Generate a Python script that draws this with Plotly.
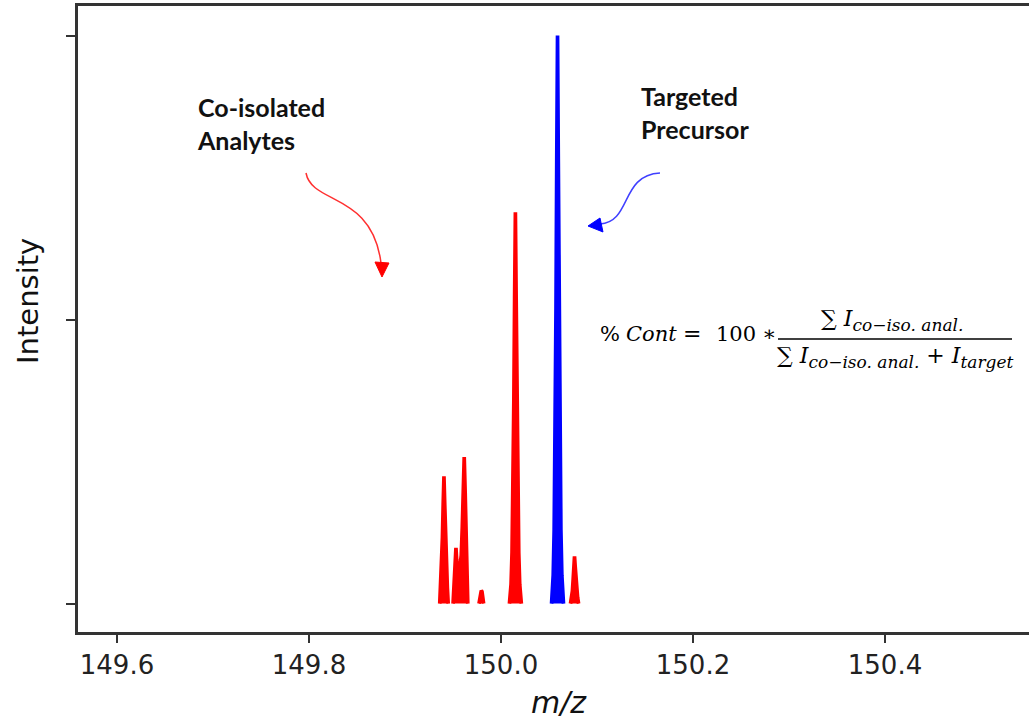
import plotly.graph_objects as go

# ---- spectrum data: profile points (m/z, intensity) for each peak ----
# co-isolated analytes (red)
coiso_mz = [
    [149.9362, 149.9371, 149.9381, 149.9390, 149.9398, 149.9406,
     149.9414, 149.9422, 149.9431, 149.9441, 149.9450],
    [149.9501, 149.9509, 149.9517, 149.9524, 149.9531, 149.9538,
     149.9546, 149.9556, 149.9566, 149.9576, 149.9586, 149.9597,
     149.9607, 149.9617, 149.9627, 149.9636, 149.9644, 149.9654],
    [149.9771, 149.9780, 149.9788, 149.9795, 149.9802, 149.9810, 149.9819],
    [150.0088, 150.0105, 150.0115, 150.0125, 150.0134, 150.0142,
     150.0150, 150.0158, 150.0166, 150.0175, 150.0185, 150.0195, 150.0212],
    [150.0724, 150.0734, 150.0744, 150.0752, 150.0759, 150.0766,
     150.0773, 150.0780, 150.0788, 150.0798, 150.0808],
]
coiso_int = [
    [0, 0.029, 0.060, 0.116, 0.175, 0.224, 0.175, 0.116, 0.060, 0.029, 0],
    [0, 0.024, 0.050, 0.078, 0.098, 0.078, 0.058, 0.048, 0.052, 0.064,
     0.085, 0.135, 0.205, 0.258, 0.195, 0.115, 0.048, 0],
    [0, 0.014, 0.021, 0.023, 0.021, 0.014, 0],
    [0, 0.034, 0.090, 0.186, 0.358, 0.537, 0.689, 0.537, 0.358, 0.186,
     0.090, 0.034, 0],
    [0, 0.011, 0.022, 0.043, 0.065, 0.083, 0.065, 0.043, 0.022, 0.011, 0],
]
# targeted precursor (blue)
target_mz = [150.0527, 150.0544, 150.0554, 150.0564, 150.0573, 150.0581,
             150.0589, 150.0597, 150.0605, 150.0614, 150.0624, 150.0634,
             150.0651]
target_int = [0, 0.05, 0.13, 0.27, 0.52, 0.78, 1.0, 0.78, 0.52, 0.27,
              0.13, 0.05, 0]

x_ticks = [149.6, 149.8, 150.0, 150.2, 150.4]
x_tick_labels = ["149.6", "149.8", "150.0", "150.2", "150.4"]
y_ticks = [0, 0.5, 1.0]

# ---- figure geometry ----
W, H = 1029, 723
M_L, M_R, M_T, M_B = 78, 0, 6, 91
PW, PH = W - M_L - M_R, H - M_T - M_B


def px(x):
    """Horizontal pixel position -> paper fraction."""
    return (x - M_L) / PW


def py(y):
    """Vertical pixel position (from top) -> paper fraction."""
    return (H - M_B - y) / PH


RED = "#ff0000"
BLUE = "#0000ff"

fig = go.Figure()

for mz, inten in zip(coiso_mz, coiso_int):
    fig.add_trace(go.Scatter(
        x=mz, y=inten, mode="lines", fill="toself", fillcolor=RED,
        line=dict(color=RED, width=3.7), hoverinfo="x+y", showlegend=False,
    ))

fig.add_trace(go.Scatter(
    x=target_mz, y=target_int, mode="lines", fill="toself", fillcolor=BLUE,
    line=dict(color=BLUE, width=3.7), hoverinfo="x+y", showlegend=False,
))

AXIS_COL = "#333333"
fig.update_xaxes(
    range=[149.5594, 150.55], tickvals=x_ticks, ticktext=x_tick_labels,
    ticks="outside", ticklen=8, tickwidth=2, tickcolor=AXIS_COL,
    showline=True, linecolor=AXIS_COL, linewidth=2.5, mirror=True,
    showgrid=False, zeroline=False,
    tickfont=dict(family="DejaVu Sans", size=26, color="#222222"),
)
fig.update_yaxes(
    range=[-0.05, 1.052], tickvals=y_ticks, showticklabels=False,
    ticks="outside", ticklen=9, tickwidth=2, tickcolor=AXIS_COL,
    showline=True, linecolor=AXIS_COL, linewidth=2.5, mirror=False,
    showgrid=False, zeroline=False,
)

SUB = '<sub><span style="font-size:17px"><i>{}</i></span></sub>'


def formula_piece(text, x_px, y_px, anchor="left", size=22):
    return dict(x=px(x_px), xref="paper", y=py(y_px), yref="paper",
                text=text, showarrow=False, xanchor=anchor,
                yanchor="middle",
                font=dict(family="DejaVu Serif", size=size, color="#000000"))


annotations = [
    # axis titles
    dict(x=150.06, xref="x", y=py(702), yref="paper", text="<i>m/z</i>",
         showarrow=False, xanchor="center", yanchor="middle",
         font=dict(family="DejaVu Sans", size=30, color="#111111")),
    dict(x=px(28), xref="paper", y=py(301), yref="paper", text="Intensity",
         textangle=-90, showarrow=False, xanchor="center", yanchor="middle",
         font=dict(family="DejaVu Sans", size=29, color="#111111")),
    # labels
    dict(x=px(195), xref="paper", y=py(90), yref="paper",
         text="<b>Co-isolated</b><br><b>Analytes</b>", align="left",
         showarrow=False, xanchor="left", yanchor="top",
         font=dict(family="Lato", size=25, color="#111111")),
    dict(x=px(639), xref="paper", y=py(79), yref="paper",
         text="<b>Targeted</b><br><b>Precursor</b>", align="left",
         showarrow=False, xanchor="left", yanchor="top",
         font=dict(family="Lato", size=25, color="#111111")),
    # contamination formula
    formula_piece("%", 598, 334, size=21),
    formula_piece("<i>Cont</i>", 624, 334, size=21),
    formula_piece("=", 681, 334, size=22),
    formula_piece("100", 714, 334, size=21),
    formula_piece("∗", 760, 334, size=21),
    formula_piece("∑ <i>I</i>" + SUB.format("co−iso. anal."), 892, 320,
                  anchor="center"),
    formula_piece("∑ <i>I</i>" + SUB.format("co−iso. anal.") + " + <i>I</i>"
                  + SUB.format("target"), 895, 357, anchor="center"),
]


def curve(p0, c1, c2, p3):
    pts = [p0, c1, c2, p3]
    s = [f"{px(a):.5f},{py(b):.5f}" for a, b in pts]
    return f"M {s[0]} C {s[1]} {s[2]} {s[3]}"


def tri(a, b, c):
    s = [f"{px(u):.5f},{py(v):.5f}" for u, v in (a, b, c)]
    return f"M {s[0]} L {s[1]} L {s[2]} Z"


ARROW_RED = "#ff3030"
ARROW_BLUE = "#4040ff"
shapes = [
    # fraction bar
    dict(type="line", xref="paper", yref="paper",
         x0=px(778), x1=px(1012), y0=py(339), y1=py(339),
         line=dict(color="#000000", width=1.5)),
    # curved pointer towards the co-isolated peaks
    dict(type="path", xref="paper", yref="paper",
         path=curve((306, 173), (312, 205), (372, 192), (381, 263)),
         line=dict(color=ARROW_RED, width=1.5)),
    dict(type="path", xref="paper", yref="paper",
         path=tri((375, 262), (389, 263), (382, 277)),
         fillcolor=RED, line=dict(color=RED, width=1)),
    # curved pointer towards the precursor
    dict(type="path", xref="paper", yref="paper",
         path=curve((660, 173), (620, 175), (632, 222), (600, 224)),
         line=dict(color=ARROW_BLUE, width=1.5)),
    dict(type="path", xref="paper", yref="paper",
         path=tri((588, 226), (600, 218), (603, 232)),
         fillcolor=BLUE, line=dict(color=BLUE, width=1)),
]

fig.update_layout(
    width=W, height=H,
    margin=dict(l=M_L, r=M_R, t=M_T, b=M_B, autoexpand=False),
    paper_bgcolor="white", plot_bgcolor="white",
    annotations=annotations, shapes=shapes, showlegend=False,
)

fig.write_html("out.html")
